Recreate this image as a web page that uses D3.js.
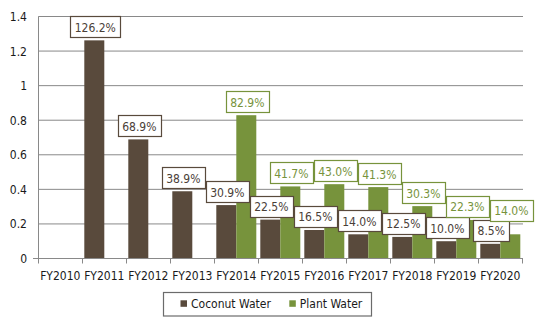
<!DOCTYPE html>
<html>
<head>
<meta charset="utf-8">
<script src="https://cdn.jsdelivr.net/npm/d3@7"></script>
<style>
  html, body { margin: 0; padding: 0; background: #fff; }
  svg { display: block; font-family: "DejaVu Sans Condensed", "DejaVu Sans", sans-serif; font-stretch: condensed; }
</style>
</head>
<body>
<svg id="chart" width="540" height="327"></svg>
<script>
const categories = ["FY2010","FY2011","FY2012","FY2013","FY2014","FY2015","FY2016","FY2017","FY2018","FY2019","FY2020"];
const coconutWater = [null, 1.262, 0.689, 0.389, 0.309, 0.225, 0.165, 0.140, 0.125, 0.100, 0.085];
const plantWater   = [null, null, null, null, 0.829, 0.417, 0.430, 0.413, 0.303, 0.223, 0.140];
const yTicks = [0, 0.2, 0.4, 0.6, 0.8, 1, 1.2, 1.4];
const seriesNames = ["Coconut Water", "Plant Water"];

const colors = { coconut: "#594a3c", plant: "#77933c" };
const svg = d3.select("#chart");

const x = d3.scaleBand().domain(categories).range([38.3, 522.3]).paddingInner(0).paddingOuter(0);
const xSub = d3.scaleBand().domain(seriesNames).range([2, x.bandwidth() - 2]).padding(0);
const y = d3.scaleLinear().domain([0, 1.4]).range([258.5, 16.5]);

// gridlines
svg.append("g").selectAll("line").data(yTicks.filter(d => d > 0)).join("line")
  .attr("x1", 38.3).attr("x2", 523)
  .attr("y1", d => y(d)).attr("y2", d => y(d))
  .attr("stroke", "#898989").attr("stroke-width", 1);

// y labels
svg.append("g").selectAll("text").data(yTicks).join("text")
  .attr("x", 27).attr("y", d => y(d) + 4.5)
  .attr("text-anchor", "end")
  .attr("font-size", 12).attr("fill", "#1a1a1a")
  .text(d => d3.format("")(d));

// bars
const series = [
  { name: seriesNames[0], values: coconutWater, color: colors.coconut, text: "#4a4038" },
  { name: seriesNames[1], values: plantWater, color: colors.plant, text: "#77933c" }
];

series.forEach(s => {
  const data = categories.map((c, i) => ({ c, v: s.values[i] })).filter(d => d.v != null);
  svg.append("g").selectAll("rect").data(data).join("rect")
    .attr("x", d => x(d.c) + xSub(s.name))
    .attr("width", xSub.bandwidth())
    .attr("y", d => y(d.v))
    .attr("height", d => y(0) - y(d.v))
    .attr("fill", s.color);
});

// axes lines
const axisColor = "#898989";
svg.append("line").attr("x1", 33).attr("x2", 523).attr("y1", y(0)).attr("y2", y(0)).attr("stroke", axisColor);
svg.append("line").attr("x1", 38.5).attr("x2", 38.5).attr("y1", y(1.4)).attr("y2", y(0)).attr("stroke", axisColor);
const boundaries = categories.map(c => x(c)).concat([x.range()[1]]);
svg.append("g").selectAll("line").data(boundaries).join("line")
  .attr("x1", d => Math.round(d) + 0.5).attr("x2", d => Math.round(d) + 0.5)
  .attr("y1", y(0)).attr("y2", y(0) + 5)
  .attr("stroke", axisColor);

// x labels
svg.append("g").selectAll("text").data(categories).join("text")
  .attr("x", d => x(d) + x.bandwidth() / 2).attr("y", 280)
  .attr("text-anchor", "middle")
  .attr("font-size", 12).attr("fill", "#1a1a1a")
  .text(d => d);

// data labels (placed outside end; later labels lifted above earlier ones if they collide)
const placed = [];
const labelLayer = svg.append("g");
series.forEach(s => {
  const data = categories.map((c, i) => ({ c, v: s.values[i] })).filter(d => d.v != null);
  data.forEach(d => {
    const cx = x(d.c) + xSub(s.name) + xSub.bandwidth() / 2 + 1;
    let bottom = y(d.v) - 3;
    const lg = labelLayer.append("g");
    const rect = lg.append("rect");
    const t = lg.append("text")
      .attr("text-anchor", "middle")
      .attr("font-size", 12).attr("fill", s.text)
      .text(d3.format(".1%")(d.v));
    const w = t.node().getComputedTextLength() + 9;
    const left = cx - w / 2, right = cx + w / 2;
    placed.forEach(p => {
      if (p.c === d.c && left < p.right && right > p.left && bottom > p.top && bottom - 21 < p.bottom) {
        bottom = p.top + 1;
      }
    });
    t.attr("x", cx).attr("y", bottom - 5.5);
    rect.attr("x", Math.round(left) + 0.5).attr("y", Math.round(bottom - 21) + 0.5)
      .attr("width", Math.round(w)).attr("height", 21)
      .attr("fill", "#fff").attr("stroke", s.color).attr("stroke-width", 1.2);
    placed.push({ c: d.c, left, right, top: bottom - 21, bottom });
  });
});

// legend
const lg = svg.append("g");
lg.append("rect").attr("x", 163.5).attr("y", 292.5).attr("width", 208).attr("height", 23.5)
  .attr("fill", "#fff").attr("stroke", "#6b6b6b").attr("stroke-width", 1.2);
const legendItems = [
  { name: seriesNames[0], color: colors.coconut, x: 180.5 },
  { name: seriesNames[1], color: colors.plant, x: 289.3 }
];
legendItems.forEach(it => {
  lg.append("rect").attr("x", it.x).attr("y", 300.3).attr("width", 6.5).attr("height", 6.5).attr("fill", it.color);
  lg.append("text").attr("x", it.x + 10.5).attr("y", 308.3)
    .attr("font-size", 12).attr("fill", "#1a1a1a").text(it.name);
});
</script>
</body>
</html>
